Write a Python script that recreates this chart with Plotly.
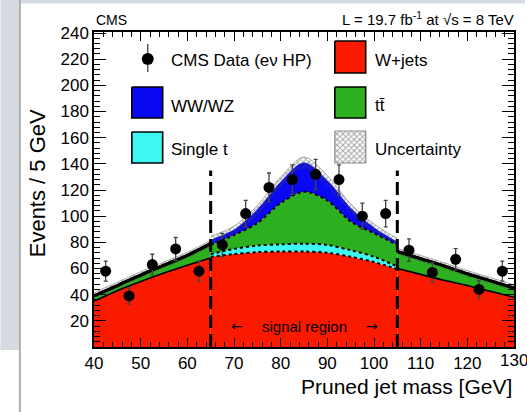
import numpy as np
import plotly.graph_objects as go

# ---------------- data ----------------
mass_bins = [42.5, 47.5, 52.5, 57.5, 62.5, 67.5, 72.5, 77.5, 82.5, 87.5,
             92.5, 97.5, 102.5, 107.5, 112.5, 117.5, 122.5, 127.5]
data_events = [58, 39, 63, 75, 58, 78, 102, 122, 128, 132,
               128, 100, 102, 74, 57, 67, 44, 58]
data_err = [7.6, 6.2, 7.9, 8.7, 7.6, 8.8, 10.1, 11.0, 11.3, 11.5,
            11.3, 10.0, 10.1, 8.6, 7.5, 8.2, 6.6, 7.6]

# lower sideband (40-65 GeV)
mass_lo = [40, 45, 50, 55, 60, 65]
wjets_lo = [35, 43, 50, 56.5, 62.5, 68]
other_lo = [4, 4, 5, 6, 7.5, 11]
unc_lo = [2.5, 2.5, 2.5, 2.5, 2.5, 2.5]

# signal region (65-105 GeV)
mass_sig = [65, 70, 75, 80, 85, 90, 95, 100, 105]
wjets_sig = [69, 71, 72.5, 73, 73, 72, 69, 65, 59.5]
singlet_sig = [2, 4, 5, 5.5, 6, 6, 5, 4, 2]
ttbar_sig = [7, 10.6, 17.2, 31.5, 39.7, 34, 22, 18, 16.5]
vv_sig = [3.7, 3.8, 10, 16, 22, 15, 10, 4, 2]
unc_sig = [3, 3, 3.5, 4, 4.5, 4, 3.5, 3, 3]

# upper sideband (105-130 GeV)
mass_hi = [105, 110, 115, 120, 125, 130]
wjets_hi = [60, 55.5, 51, 47, 42.5, 38]
other_hi = [13, 12, 11, 9, 8, 7]
unc_hi = [2.5, 2.5, 2.5, 2.5, 2.5, 2.5]

signal_region = [65, 105]
signal_line_top = 135

x_ticks = [40, 50, 60, 70, 80, 90, 100, 110, 120]
x_tick_last = 130
y_ticks = [20, 40, 60, 80, 100, 120, 140, 160, 180, 200, 220, 240]

# ---------------- styles ----------------
FONT = "Liberation Sans, Arial, Helvetica, sans-serif"
RED = "#fa1a00"
GREEN = "#2cb01f"
BLUE = "#0808f2"
CYAN = "#3ff7f2"
HATCH = dict(shape="x", fgcolor="#4a4a4a", size=4, solidity=0.45)
W, H = 527, 412
L, R, T, B = 94, 516, 32, 347  # plot area in pixels


def px_x(px):
    return (px - L) / (R - L)


def px_y(py):
    return (B - py) / (B - T)


fig = go.Figure()


def add_stack(x, comps, group):
    for vals, color, line in comps:
        fig.add_trace(go.Scatter(
            x=x, y=vals, stackgroup=group, mode="lines",
            line=dict(shape="spline", smoothing=0.9, **line),
            fillcolor=color, showlegend=False, hoverinfo="skip"))


# sidebands
add_stack(mass_lo, [(wjets_lo, RED, dict(color="black", width=1.6)),
                    (other_lo, GREEN, dict(color="black", width=3))], "lo")
add_stack(mass_hi, [(wjets_hi, RED, dict(color="black", width=1.6)),
                    (other_hi, GREEN, dict(color="black", width=3))], "hi")
# signal region
add_stack(mass_sig, [(wjets_sig, RED, dict(color="black", width=2, dash="dot")),
                     (singlet_sig, CYAN, dict(color="black", width=2, dash="dot")),
                     (ttbar_sig, GREEN, dict(color="black", width=2, dash="dot")),
                     (vv_sig, BLUE, dict(color=BLUE, width=1))], "sig")


def add_band(x, total, unc):
    total = np.asarray(total, float)
    unc = np.asarray(unc, float)
    fig.add_trace(go.Scatter(x=x, y=total - unc, mode="lines",
                             line=dict(width=0, shape="spline", smoothing=0.9),
                             showlegend=False, hoverinfo="skip"))
    fig.add_trace(go.Scatter(
        x=x, y=total + unc, mode="lines", fill="tonexty",
        fillcolor="rgba(0,0,0,0)",
        fillpattern=dict(bgcolor="rgba(0,0,0,0)", **HATCH),
        line=dict(width=0.8, color="#9a9a9a", shape="spline", smoothing=0.9),
        showlegend=False, hoverinfo="skip"))


tot_lo = np.add(wjets_lo, other_lo)
tot_hi = np.add(wjets_hi, other_hi)
tot_sig = np.sum([wjets_sig, singlet_sig, ttbar_sig, vv_sig], axis=0)
add_band(mass_lo, tot_lo, unc_lo)
add_band(mass_sig, tot_sig, unc_sig)
add_band(mass_hi, tot_hi, unc_hi)

# total line on sidebands again on top of hatch
for x, tot in [(mass_lo, tot_lo), (mass_hi, tot_hi)]:
    fig.add_trace(go.Scatter(x=x, y=tot, mode="lines",
                             line=dict(color="black", width=3, shape="spline", smoothing=0.9),
                             showlegend=False, hoverinfo="skip"))

# signal region boundaries
for xb in signal_region:
    fig.add_trace(go.Scatter(x=[xb, xb], y=[0, signal_line_top], mode="lines",
                             line=dict(color="black", width=3, dash="13px,6px"),
                             showlegend=False, hoverinfo="skip"))

# data
fig.add_trace(go.Scatter(
    x=mass_bins, y=data_events, mode="markers",
    marker=dict(color="black", size=11),
    error_y=dict(type="data", array=data_err, thickness=1.3, width=2, color="#444444"),
    showlegend=False, hoverinfo="skip"))

# ---------------- manual legend on a pixel-coordinate overlay axis ----------------
boxes = [
    (132, 163, 87, 118, BLUE),
    (132, 163, 132, 163, CYAN),
    (336, 367, 41, 73, RED),
    (336, 367, 87, 118, GREEN),
]
for x0, x1, y0, y1, col in boxes:
    fig.add_trace(go.Scatter(
        x=[x0, x1, x1, x0, x0], y=[y0, y0, y1, y1, y0], mode="lines",
        fill="toself", fillcolor=col, line=dict(color="black", width=1.6),
        xaxis="x2", yaxis="y2", showlegend=False, hoverinfo="skip"))
# uncertainty hatch box
fig.add_trace(go.Scatter(
    x=[336, 367, 367, 336, 336], y=[131, 131, 163, 163, 131], mode="lines",
    fill="toself", fillcolor="white",
    fillpattern=dict(bgcolor="white", **HATCH),
    line=dict(color="#8a8a8a", width=1.2),
    xaxis="x2", yaxis="y2", showlegend=False, hoverinfo="skip"))
# data key
fig.add_trace(go.Scatter(x=[148, 148], y=[44, 72], mode="lines",
                         line=dict(color="#444444", width=1.3),
                         xaxis="x2", yaxis="y2", showlegend=False, hoverinfo="skip"))
fig.add_trace(go.Scatter(x=[148], y=[59], mode="markers",
                         marker=dict(color="black", size=12),
                         xaxis="x2", yaxis="y2", showlegend=False, hoverinfo="skip"))

legend_texts = [
    (169, 60, "CMS Data (eν HP)"),
    (374, 60, "W+jets"),
    (169, 106, "WW/WZ"),
    (374, 105, "tt\u0304"),
    (169, 149, "Single t"),
    (374, 149, "Uncertainty"),
]
annotations = []
for x, y, txt in legend_texts:
    annotations.append(dict(x=x, y=y, xref="x2", yref="y2", text=txt, showarrow=False,
                            xanchor="left", yanchor="middle",
                            font=dict(family=FONT, size=17, color="black")))

# signal region label
annotations += [
    dict(x=85, y=px_y(326), xref="x", yref="paper", text="signal region", showarrow=False,
         xanchor="center", yanchor="middle", font=dict(family=FONT, size=15, color="black")),
    dict(x=px_x(238), y=px_y(326), xref="paper", yref="paper", text="←", showarrow=False,
         xanchor="center", yanchor="middle", font=dict(family="DejaVu Sans", size=14, color="black")),
    dict(x=px_x(373), y=px_y(326), xref="paper", yref="paper", text="→", showarrow=False,
         xanchor="center", yanchor="middle", font=dict(family="DejaVu Sans", size=14, color="black")),
    # last x tick label (cut by the page edge as in the reference)
    dict(x=x_tick_last, y=px_y(349), xref="x", yref="paper", text=str(x_tick_last),
         showarrow=False, xanchor="center", yanchor="top",
         font=dict(family=FONT, size=17, color="black")),
    # header
    dict(x=0, y=px_y(30), xref="paper", yref="paper", text="CMS", showarrow=False,
         xanchor="left", yanchor="bottom", font=dict(family=FONT, size=14, color="black")),
    dict(x=1.005, y=px_y(30), xref="paper", yref="paper",
         text="L = 19.7 fb<sup>-1</sup> at √s = 8 TeV", showarrow=False,
         xanchor="right", yanchor="bottom", font=dict(family=FONT, size=15, color="black")),
    # axis titles
    dict(x=px_x(37), y=px_y(183), xref="paper", yref="paper", text="Events / 5 GeV",
         showarrow=False, textangle=-90, xanchor="center", yanchor="middle",
         font=dict(family=FONT, size=22, color="black")),
    dict(x=1.0, y=px_y(386), xref="paper", yref="paper", text="Pruned jet mass [GeV]",
         showarrow=False, xanchor="right", yanchor="middle",
         font=dict(family=FONT, size=21, color="black")),
]

# page decorations (grey frame of the screenshot)
shapes = [
    dict(type="rect", xref="paper", yref="paper", x0=px_x(0), x1=px_x(18.5),
         y0=px_y(0), y1=px_y(350), fillcolor="#d6dbe1", line=dict(width=0), layer="above"),
    dict(type="rect", xref="paper", yref="paper", x0=px_x(18.5), x1=px_x(W),
         y0=px_y(0), y1=px_y(3.5), fillcolor="#d6dbe1", line=dict(width=0), layer="above"),
    dict(type="line", xref="paper", yref="paper", x0=px_x(19.5), x1=px_x(19.5),
         y0=px_y(0), y1=px_y(H), line=dict(color="#a8b0b0", width=2), layer="above"),
]

axis_common = dict(showgrid=False, zeroline=False, showline=True, linecolor="black",
                   linewidth=1.5, mirror="ticks", ticks="inside", tickcolor="black",
                   tickfont=dict(family=FONT, size=17, color="black"))

fig.update_layout(
    width=W, height=H,
    margin=dict(l=L, r=W - R, t=T, b=H - B),
    paper_bgcolor="white", plot_bgcolor="white",
    xaxis=dict(range=[40, 130], tickvals=x_ticks, ticklen=9, tickwidth=1.2,
               minor=dict(dtick=2, tick0=40, ticklen=5, ticks="inside", tickcolor="black"),
               **axis_common),
    yaxis=dict(range=[0, 240.8], tickvals=y_ticks, ticklen=12, tickwidth=1.2,
               minor=dict(dtick=4, tick0=0, ticklen=6, ticks="inside", tickcolor="black"),
               **axis_common),
    xaxis2=dict(range=[L, R], overlaying="x", anchor="y2", visible=False, fixedrange=True),
    yaxis2=dict(range=[B, T], overlaying="y", anchor="x2", visible=False, fixedrange=True),
    annotations=annotations,
    shapes=shapes,
    showlegend=False,
)

fig.write_html("out.html")
